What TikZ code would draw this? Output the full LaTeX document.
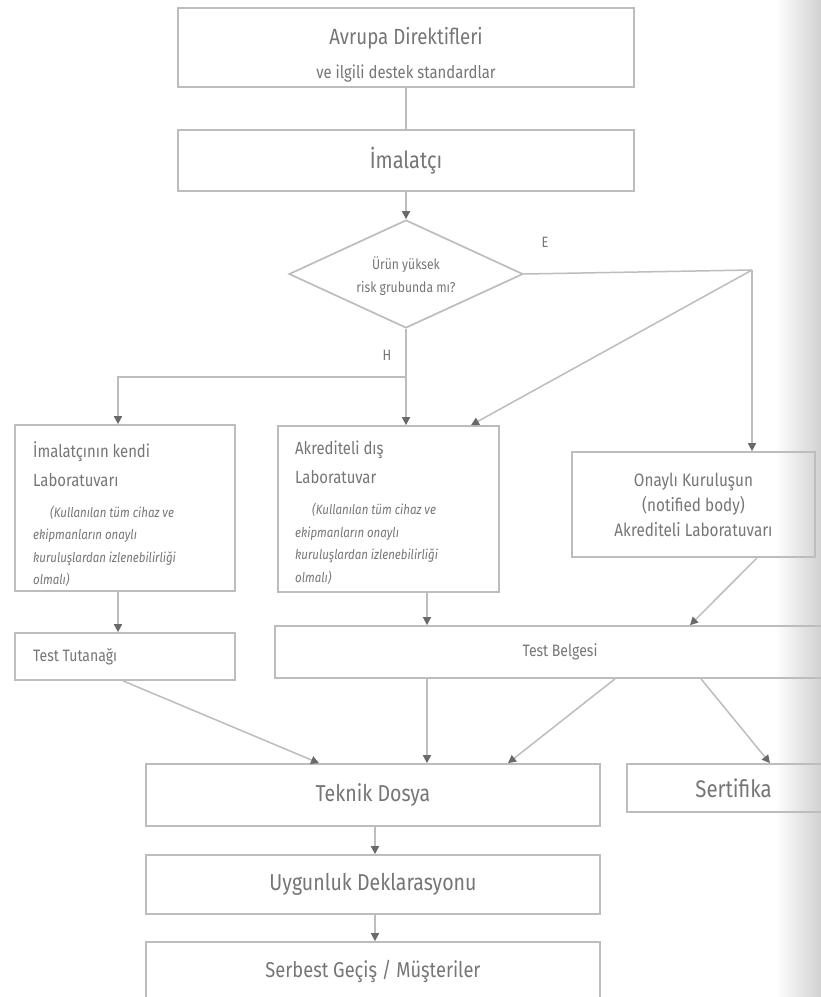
\documentclass[tikz,border=0pt]{standalone}
\usepackage{fontspec}
\setmainfont{Fira Sans}[FakeStretch=0.85]
\usetikzlibrary{arrows.meta,shapes.geometric,calc}
\definecolor{linegray}{HTML}{BDBDBD}
\definecolor{txtgray}{HTML}{767676}
\definecolor{tipgray}{HTML}{6A6A6A}
\tikzset{
  box/.style={draw=linegray, line width=1.7pt, rectangle, inner sep=0pt, text=txtgray, align=center},
  conn/.style={draw=linegray, line width=1.5pt},
  arr/.style={conn, -{Triangle[length=8pt,width=8pt,color=tipgray]}},
  lbl/.style={text=txtgray, inner sep=0pt},
}
\newcommand{\smallit}{\fontsize{13.5}{22.5}\selectfont\itshape}
\begin{document}
\begin{tikzpicture}[x=1pt,y=-1pt]
\path[use as bounding box, clip] (0,0) rectangle (821,997);
\fill[white] (0,0) rectangle (821,997);
\shade[left color=white, right color=black!18] (775,0) rectangle (821,997);

% boxes
\node[box, minimum width=456pt, minimum height=79pt] (b1) at (406,47.5) {};
\node[lbl, align=center, font=\fontsize{22}{34}\selectfont] (b1t) at (406,55)
  {Avrupa Direktifleri\\{\fontsize{17.5}{20}\selectfont ve ilgili destek standardlar}};
\node[box, minimum width=456pt, minimum height=61pt, font=\fontsize{23.5}{26}\selectfont] (b2) at (406,160.5) {İmalatçı};
\node[box, diamond, minimum width=234pt, minimum height=108pt] (dia) at (406,274) {};
\node[lbl, align=center, font=\fontsize{14.3}{23}\selectfont] (diat) at (406,276) {Ürün yüksek\\risk grubunda mı?};

\node[box, minimum width=220pt, minimum height=166pt] (lab1) at (125,508) {};
\node[lbl, anchor=north west, align=left, font=\fontsize{17.5}{22.5}\selectfont] (lab1t) at (33,441)
  {İmalatçının kendi\\[6.5pt]Laboratuvarı\\[8.5pt]
   {\smallit\hspace*{17pt}(Kullanılan tüm cihaz ve}\\
   {\smallit ekipmanların onaylı}\\
   {\smallit kuruluşlardan izlenebilirliği}\\
   {\smallit olmalı)}};

\node[box, minimum width=221pt, minimum height=166pt] (lab2) at (388.5,509) {};
\node[lbl, anchor=north west, align=left, font=\fontsize{17.5}{22.5}\selectfont] (lab2t) at (295,441)
  {Akrediteli dış\\[6.5pt]Laboratuvar\\[8.5pt]
   {\smallit\hspace*{17pt}(Kullanılan tüm cihaz ve}\\
   {\smallit ekipmanların onaylı}\\
   {\smallit kuruluşlardan izlenebilirliği}\\
   {\smallit olmalı)}};

\node[box, minimum width=243pt, minimum height=105pt, font=\fontsize{18}{25}\selectfont] (lab3) at (693.5,504.5)
  {Onaylı Kuruluşun\\(notified body)\\Akrediteli Laboratuvarı};

\node[box, minimum width=220pt, minimum height=47pt] (tt) at (125,656.5) {};
\node[lbl, anchor=west, font=\fontsize{16.5}{19}\selectfont] (ttt) at (33,657) {Test Tutanağı};

\node[box, minimum width=570pt, minimum height=52pt, font=\fontsize{16.5}{19}\selectfont] (tb) at (560,652) {Test Belgesi};

\node[box, minimum width=454pt, minimum height=62pt, font=\fontsize{23}{26}\selectfont] (td) at (373,795) {Teknik Dosya};
\node[box, minimum width=213pt, minimum height=48pt, font=\fontsize{24}{27}\selectfont] (ser) at (733.5,788) {Sertifika};
\node[box, minimum width=454pt, minimum height=59pt, font=\fontsize{23}{26}\selectfont] (ud) at (373,884.5) {Uygunluk Deklarasyonu};
\node[box, minimum width=454pt, minimum height=58pt, font=\fontsize{21.5}{24}\selectfont] (sg) at (373,971) {Serbest Geçiş / Müşteriler};

% labels
\node[lbl, font=\fontsize{15}{17}\selectfont] (E) at (545,242) {E};
\node[lbl, font=\fontsize{15}{17}\selectfont] (H) at (387,355) {H};

% connectors
\coordinate (eR) at (752,270);
\coordinate (hB) at (406,377);
\coordinate (hL) at (118,377);

\draw[conn] (b1.south) -- (b2.north);
\draw[arr] (b2.south) -- (dia.north);
\draw[conn] (dia.east) -- (eR);
\draw[arr] (eR) -- (eR |- lab3.north);
\draw[arr] (eR) -- (lab2.north -| 471,0);
\draw[arr] (dia.south) -- (dia.south |- lab2.north);
\draw[arr] (hB) -- (hL) -- (hL |- lab1.north);
\draw[arr] (lab1.south -| 118,0) -- (tt.north -| 118,0);
\draw[arr] (lab2.south -| 427,0) -- (tb.north -| 427,0);
\draw[arr] (lab3.south -| 757,0) -- (tb.north -| 690,0);
\draw[arr] (tt.south -| 123,0) -- (td.north -| 319,0);
\draw[arr] (tb.south -| 427,0) -- (td.north -| 427,0);
\draw[arr] (tb.south -| 615,0) -- (td.north -| 508,0);
\draw[arr] (tb.south -| 701,0) -- (ser.north -| 770,0);
\draw[arr] (td.south -| 375,0) -- (ud.north -| 375,0);
\draw[arr] (ud.south -| 375,0) -- (sg.north -| 375,0);
\end{tikzpicture}
\end{document}
